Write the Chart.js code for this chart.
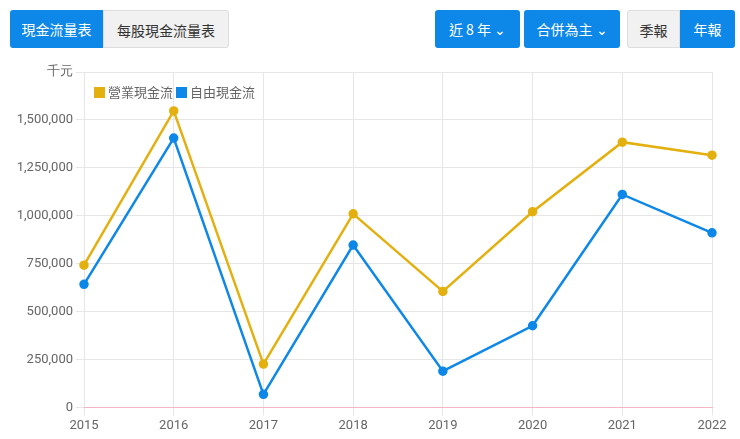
<!DOCTYPE html><html><head><meta charset="utf-8"><script src="https://cdn.jsdelivr.net/npm/chart.js@4"></script>
<style>
body{margin:0;width:740px;height:439px;font-family:"Noto Sans CJK TC",sans-serif;background:#fff;position:relative;overflow:hidden}
.b{position:absolute;top:10px;height:38px;line-height:38px;text-align:center;font-size:14px;box-sizing:border-box;border-radius:3px}
.on{background:#0d87e8;color:#fff}.off{background:#f1f1f1;color:#333;border:1px solid #ddd}
#wrap{position:absolute;left:0;top:55px;width:740px;height:384px}
#lg{position:absolute;left:94px;top:82px;font-size:13px;color:#666}
#lg span{display:inline-block;width:11px;height:11px;vertical-align:-1px;margin-right:3px}
</style></head><body>
<div class="b on" style="left:10px;width:93px;border-radius:3px 0 0 3px">現金流量表</div>
<div class="b off" style="left:103px;width:126px;border-radius:0 3px 3px 0">每股現金流量表</div>
<div class="b on" style="left:435px;width:85px">近 8 年 ⌄</div>
<div class="b on" style="left:524px;width:96px">合併為主 ⌄</div>
<div class="b off" style="left:627px;width:53px;border-radius:3px 0 0 3px">季報</div>
<div class="b on" style="left:680px;width:55px;border-radius:0 3px 3px 0">年報</div>
<div id="wrap"><canvas id="c"></canvas></div>
<div id="lg"><span style="background:#e3b00f"></span>營業現金流 <span style="background:#0d87e8"></span>自由現金流</div>
<script>
const years=['2015','2016','2017','2018','2019','2020','2021','2022'];
const operating=[742000,1547000,226000,1010000,605000,1021000,1384000,1316000];
const free=[642000,1405000,68000,847000,189000,426000,1111000,911000];
new Chart(document.getElementById('c'),{type:'line',data:{labels:years,datasets:[
{label:'營業現金流',data:operating,borderColor:'#e3b00f',backgroundColor:'#e3b00f',borderWidth:2.5,pointRadius:3.5,tension:0},
{label:'自由現金流',data:free,borderColor:'#0d87e8',backgroundColor:'#0d87e8',borderWidth:2.5,pointRadius:3.5,tension:0}]},
options:{responsive:true,maintainAspectRatio:false,animation:false,layout:{padding:{left:0,right:28,top:17,bottom:2}},
plugins:{legend:{display:false},tooltip:{enabled:false}},
scales:{x:{offset:false,grid:{color:'#e6e6e6'},border:{color:'#f4b6c2',width:1},ticks:{color:'#666',font:{size:13,family:'Roboto'}}},
y:{min:0,max:1750000,afterFit(s){s.width=84},grid:{color:'#e6e6e6'},border:{display:false},ticks:{stepSize:250000,color:'#666',font:{size:13,family:'Roboto'},callback:v=>v===1750000?'千元':v.toLocaleString('en-US')}}}}});
</script></body></html>
